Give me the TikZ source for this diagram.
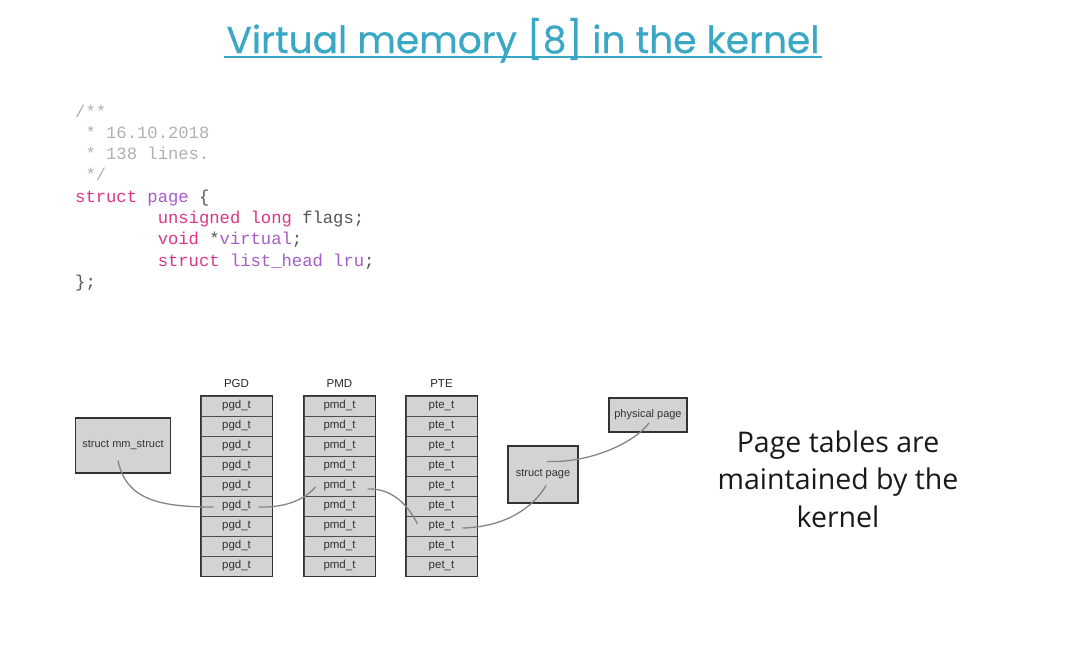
\documentclass[tikz,border=0pt]{standalone}
\usepackage{fontspec}
\usetikzlibrary{calc}
\setmainfont{Liberation Sans}
\newfontfamily\titlefont[FakeBold=0.6]{Poppins}
\newfontfamily\bodyfont{Open Sans}
\newfontfamily\codefont{Liberation Mono}
\definecolor{titleblue}{HTML}{3AA8C4}
\definecolor{cgray}{HTML}{B0B0B0}
\definecolor{cdark}{HTML}{555555}
\definecolor{cpink}{HTML}{D9368B}
\definecolor{cpurple}{HTML}{A65CC8}
\definecolor{boxfill}{HTML}{D3D3D3}
\definecolor{linkgray}{HTML}{858585}
\tikzset{
  cell/.style={draw=black!70, line width=0.8pt, fill=boxfill, minimum width=71pt, minimum height=20pt, inner sep=0pt, font=\fontsize{11.5}{13}\selectfont, text=black!80},
  outline/.style={draw=black!80, line width=1.6pt},
  sbox/.style={draw=black!80, line width=1.6pt, fill=boxfill, inner sep=0pt, font=\fontsize{11}{13}\selectfont, text=black!80},
  head/.style={font=\fontsize{11.5}{13}\selectfont, text=black!85},
  codeline/.style={anchor=base west, inner sep=0pt, font=\codefont\fontsize{17.2}{20}\selectfont},
  link/.style={draw=linkgray, line width=1.3pt}
}
\begin{document}
\begin{tikzpicture}[x=1pt,y=-1pt]
\useasboundingbox (0,0) rectangle (1066,656);
% title
\node[anchor=base, inner sep=0pt, text=titleblue, font=\titlefont\fontsize{37.5}{40}\selectfont] (title) at (523,53) {Virtual memory [8] in the kernel};
\draw[titleblue, line width=1.6pt] (224,57) -- (822,57);
% code
\node[codeline, text=cgray] (c1) at (75,117) {/**};
\node[codeline, text=cgray] (c2) at (75,138.3) {\ * 16.10.2018};
\node[codeline, text=cgray] (c3) at (75,159.6) {\ * 138 lines.};
\node[codeline, text=cgray] (c4) at (75,180.9) {\ */};
\node[codeline] (c5) at (75,202.2) {\textcolor{cpink}{struct} \textcolor{cpurple}{page} \textcolor{cdark}{\{}};
\node[codeline] (c6) at (75,223.5) {\phantom{xxxxxxxx}\textcolor{cpink}{unsigned long} \textcolor{cdark}{flags;}};
\node[codeline] (c7) at (75,244.8) {\phantom{xxxxxxxx}\textcolor{cpink}{void} \textcolor{cdark}{*}\textcolor{cpurple}{virtual}\textcolor{cdark}{;}};
\node[codeline] (c8) at (75,266.1) {\phantom{xxxxxxxx}\textcolor{cpink}{struct} \textcolor{cpurple}{list\_head lru}\textcolor{cdark}{;}};
\node[codeline, text=cdark] (c9) at (75,287.4) {\};};
% columns
\foreach \name/\lab/\x/\last in {pgd/pgd\_t/236.5/pgd\_t, pmd/pmd\_t/339.5/pmd\_t, pte/pte\_t/441.5/pet\_t}{
  \foreach \i in {1,...,8}{
    \node[cell] (\name\i) at (\x,{406+20*(\i-1)}) {\lab};
  }
  \node[cell] (\name9) at (\x,566) {\last};
  \draw[outline] (\name1.north west) rectangle (\name9.south east);
}
\node[head, anchor=base] (hpgd) at (pgd1.north |- 0,387) {PGD};
\node[head, anchor=base] (hpmd) at (pmd1.north |- 0,387) {PMD};
\node[head, anchor=base] (hpte) at (pte1.north |- 0,387) {PTE};
% boxes
\node[sbox, minimum width=95pt, minimum height=55pt] (mm) at (123,445.5) {struct mm\_struct};
\node[sbox, minimum width=70pt, minimum height=57pt] (sp) at (543,474.5) {struct page};
\node[sbox, minimum width=78pt, minimum height=34pt] (pp) at (648,415) {physical page};
% links
\draw[link] ($(mm.center)+(-5,15)$) .. controls (126,500) and (160,507) .. ($(pgd6.center)+(-23,1)$);
\draw[link] ($(pgd6.center)+(22,1)$) .. controls (288,508) and (306,498) .. ($(pmd5.center)+(-24,1)$);
\draw[link] ($(pmd5.center)+(28,3)$) .. controls (392,488) and (408,505) .. ($(pte7.center)+(-24,-2)$);
\draw[link] ($(pte7.center)+(21,2)$) .. controls (508,527) and (535,505) .. ($(sp.center)+(3,11)$);
\draw[link] ($(sp.center)+(4,-13)$) .. controls (592,463) and (635,442) .. ($(pp.center)+(1,8)$);
% side text
\node[align=center, text=black!90, font=\bodyfont\fontsize{28.5}{37.5}\selectfont] (side) at (838,479) {Page tables are\\maintained by the\\kernel};
\end{tikzpicture}
\end{document}
